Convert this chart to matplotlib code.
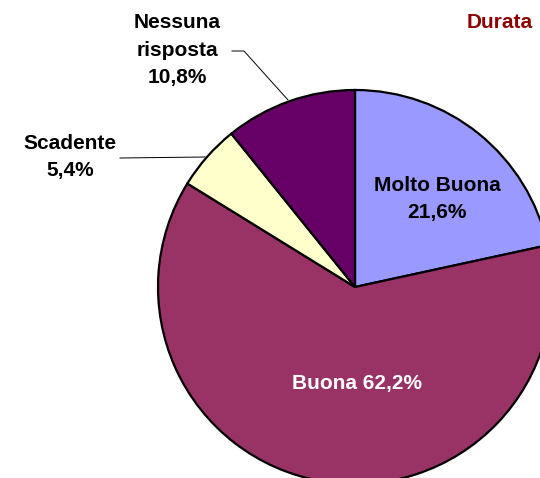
import matplotlib
matplotlib.use("Agg")
import matplotlib.pyplot as plt

# Dati
categorie = ["Molto Buona", "Buona", "Scadente", "Nessuna risposta"]
valori = [21.6, 62.2, 5.4, 10.8]
colori = ["#9999FF", "#993366", "#FFFFCC", "#660066"]
titolo = "Durata"

W, H = 540, 478
fig = plt.figure(figsize=(W / 100, H / 100), dpi=100)
fig.patch.set_facecolor("white")
ax = fig.add_axes([0, 0, 1, 1])

cx, cy, r = 355, H - 287, 197
ax.pie(
    valori,
    colors=colori,
    startangle=90,
    counterclock=False,
    center=(cx, cy),
    radius=r,
    wedgeprops=dict(edgecolor="black", linewidth=1.6),
    frame=True,
)
ax.set_xlim(0, W)
ax.set_ylim(0, H)
ax.set_aspect("equal")
ax.axis("off")

font = dict(family=["Liberation Sans", "DejaVu Sans"], fontsize=15, fontweight="bold")

def fmt(v):
    return f"{v:.1f}".replace(".", ",") + "%"

# Etichette
ax.text(437, H - 199, f"{categorie[0]}\n{fmt(valori[0])}", ha="center", va="center",
        color="black", linespacing=1.55, **font)
ax.text(357, H - 384, f"{categorie[1]} {fmt(valori[1])}", ha="center", va="center",
        color="white", **font)
ax.text(70, H - 157, f"{categorie[2]}\n{fmt(valori[2])}", ha="center", va="center",
        color="black", linespacing=1.55, **font)
ax.text(177, H - 50, "Nessuna\nrisposta\n" + fmt(valori[3]), ha="center", va="center",
        color="black", linespacing=1.55, **font)

# Linee guida
ax.plot([120, 205], [H - 158, H - 157], color="black", linewidth=0.7)
ax.plot([232, 244, 288], [H - 51, H - 51, H - 100], color="black", linewidth=0.7)

ax.text(500, H - 22, titolo, ha="center", va="center", color="#8B0000", **font)

fig.savefig("out.png", dpi=100, facecolor="white")
